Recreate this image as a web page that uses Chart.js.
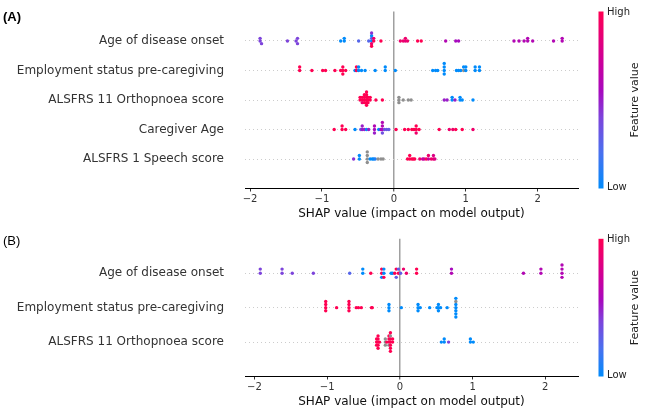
<!DOCTYPE html>
<html>
<head>
<meta charset="utf-8">
<script src="https://cdn.jsdelivr.net/npm/chart.js@4.4.1/dist/chart.umd.min.js"></script>
<style>
  body { margin: 0; background: #fff; }
  #wrap { position: relative; width: 649px; height: 410px; }
  canvas { position: absolute; left: 0; }
  #chartA { top: 0; }
  #chartB { top: 222px; }
</style>
</head>
<body>
<div id="wrap">
  <canvas id="chartA" width="649" height="222"></canvas>
  <canvas id="chartB" width="649" height="188"></canvas>
</div>
<script>
// feature names, most important first (top row)
const featuresA = ['Age of disease onset', 'Employment status pre-caregiving', 'ALSFRS 11 Orthopnoea score', 'Caregiver Age', 'ALSFRS 1 Speech score']
const featuresB = ['Age of disease onset', 'Employment status pre-caregiving', 'ALSFRS 11 Orthopnoea score']
const xTicks = [-2, -1, 0, 1, 2]

// each point: [shap value, feature value 0..1]  (null = missing, drawn grey)
const onsetA = [
  [-1.86, 0.4], [-1.86, 0.4], [-1.84, 0.4],
  [-1.48, 0.4],
  [-1.36, 0.4], [-1.34, 0.4], [-1.34, 0.4],
  [-0.74, 0], [-0.69, 0], [-0.69, 0],
  [-0.49, 0.25],
  [-0.35, 0.25], [-0.31, 0], [-0.31, 0.3], [-0.31, 0.9], [-0.31, 0], [-0.31, 1], [-0.31, 0.45], [-0.28, 1], [-0.28, 0.9],
  [-0.18, 1],
  [0.09, 0.9], [0.13, 0.9], [0.16, 0.85], [0.16, 0.9], [0.19, 0.9],
  [0.33, 1], [0.38, 1],
  [0.72, 0.6], [0.86, 0.55], [0.9, 0.55],
  [1.67, 0.6], [1.74, 0.6], [1.81, 0.6], [1.86, 0.6], [1.86, 0.6], [1.93, 0.6],
  [2.22, 0.6], [2.34, 0.6], [2.34, 0.6]
]
const employA = [
  [-1.31, 1], [-1.31, 1],
  [-1.14, 1],
  [-0.99, 1], [-0.95, 1],
  [-0.82, 1],
  [-0.74, 1], [-0.71, 1], [-0.71, 1], [-0.71, 1], [-0.67, 1],
  [-0.54, 0], [-0.52, 1], [-0.52, 1], [-0.49, 0], [-0.49, 0], [-0.45, 0], [-0.4, 0],
  [-0.26, 0],
  [-0.12, 0], [-0.12, 0],
  [0.02, 0],
  [0.54, 0], [0.58, 0], [0.61, 0],
  [0.7, 0], [0.7, 0], [0.7, 0], [0.7, 0],
  [0.87, 0], [0.9, 0], [0.93, 0], [0.97, null], [0.97, 0], [1.0, 0], [1.0, 0],
  [1.13, 0], [1.13, 0], [1.19, 0], [1.19, 0]
]
const orthoA = [
  [-0.47, 1], [-0.47, 1],
  [-0.44, 1], [-0.44, 1], [-0.44, 0.9],
  [-0.41, 1], [-0.41, 1], [-0.41, 1], [-0.41, 1],
  [-0.38, 1], [-0.38, 1], [-0.38, 1], [-0.38, 1], [-0.38, 1], [-0.38, 1],
  [-0.36, 1], [-0.36, 1], [-0.36, 1],
  [-0.33, 1], [-0.33, 1],
  [-0.25, 1], [-0.16, 1],
  [0.07, null], [0.07, null], [0.07, null], [0.13, null], [0.2, null], [0.24, null],
  [0.7, 0.5], [0.74, 0.5], [0.81, 0], [0.81, 0], [0.85, 0.5], [0.92, 0], [0.92, 0], [0.95, 0], [1.1, 0]
]
const ageA = [
  [-0.83, 1],
  [-0.72, 1], [-0.72, 1], [-0.67, 1],
  [-0.54, 0],
  [-0.46, 0.3], [-0.44, 0.5], [-0.44, 0.5], [-0.41, 0.5], [-0.38, 0], [-0.35, 0.5],
  [-0.27, 0.55], [-0.27, 0.6], [-0.27, 0.5],
  [-0.21, 0], [-0.18, 0.55], [-0.16, 0.6], [-0.16, 0.6], [-0.16, 0.35], [-0.16, 0.6], [-0.13, 0.35], [-0.1, 0.3], [-0.07, 0.3],
  [0.03, 1],
  [0.15, 1], [0.2, 1], [0.25, 1], [0.28, 1], [0.31, 1], [0.31, 1], [0.31, 0.9], [0.35, 1],
  [0.63, 1], [0.77, 0.9], [0.82, 0.9], [0.86, 1], [0.95, 1], [1.1, 0.9]
]
const speechA = [
  [-0.56, 0.45],
  [-0.48, 0], [-0.48, 0],
  [-0.37, null], [-0.37, null], [-0.37, null], [-0.37, null],
  [-0.33, 0], [-0.3, 0], [-0.28, 0], [-0.26, 0.1],
  [-0.22, null], [-0.18, null], [-0.15, null],
  [0.19, 1], [0.22, 1], [0.22, 1], [0.25, 1], [0.27, 1], [0.29, 1],
  [0.36, 0.9], [0.4, 0.7], [0.42, 0.7], [0.45, 1], [0.48, 0.7], [0.48, 0.9], [0.52, 0.9], [0.55, 0.9], [0.55, 0.8], [0.57, 0.8]
]

const onsetB = [
  [-1.92, 0.4], [-1.92, 0.4],
  [-1.62, 0.4], [-1.62, 0.4],
  [-1.48, 0.4],
  [-1.19, 0.4],
  [-0.69, 0.25],
  [-0.51, 0], [-0.51, 0],
  [-0.4, 1],
  [-0.25, 1], [-0.25, 1], [-0.25, 0], [-0.22, 0], [-0.22, 0], [-0.22, 1],
  [-0.12, 0], [-0.1, 0],
  [-0.07, 1], [-0.05, 1], [-0.05, 0.3], [-0.02, 1], [-0.02, 0.3], [0.01, 0.3], [0.05, 0.9],
  [0.09, 0.9],
  [0.23, 1], [0.23, 1],
  [0.71, 0.6], [0.71, 0.55],
  [1.7, 0.6],
  [1.94, 0.6], [1.94, 0.6],
  [2.23, 0.6], [2.23, 0.6], [2.23, 0.6], [2.23, 0.6]
]
const employB = [
  [-1.02, 1], [-1.02, 1], [-1.02, 1], [-1.02, 1],
  [-0.87, 1],
  [-0.7, 1], [-0.7, 1], [-0.7, 1], [-0.7, 1],
  [-0.6, 1], [-0.57, 1], [-0.53, 1],
  [-0.39, 1], [-0.38, 1],
  [-0.15, 0], [-0.15, 0], [-0.15, 0],
  [0.02, 0],
  [0.25, 0], [0.25, 0], [0.25, 0], [0.28, 0],
  [0.41, 0],
  [0.51, 0], [0.53, 0], [0.53, 0], [0.53, 0], [0.56, 0],
  [0.65, 0],
  [0.77, 0], [0.77, 0], [0.77, 0], [0.77, null], [0.77, 0], [0.77, 0], [0.77, 0]
]
const orthoB = [
  [-0.32, 1], [-0.32, 1], [-0.32, 1],
  [-0.3, 1], [-0.3, 1], [-0.3, 1], [-0.3, 1], [-0.3, 1], [-0.28, 1],
  [-0.2, null], [-0.2, null], [-0.2, null], [-0.18, 1],
  [-0.15, 1], [-0.15, 1], [-0.15, null], [-0.15, 1],
  [-0.13, 1], [-0.13, 1], [-0.13, 1], [-0.13, null], [-0.13, 1], [-0.13, 1], [-0.13, 1],
  [-0.1, 1], [-0.1, 1],
  [0.57, 0], [0.61, 0], [0.61, 0], [0.67, 0.4],
  [0.97, 0], [0.97, 0], [1.01, 0]
]

// shap red_blue colour map
const cmapStops = [
  [0.0, [0, 139, 251]],
  [0.2, [73, 113, 239]],
  [0.4, [125, 68, 219]],
  [0.55, [167, 10, 190]],
  [0.7, [200, 0, 158]],
  [0.85, [229, 0, 120]],
  [1.0, [255, 0, 82]]
]
const missingColor = '#8f8f8f'
const font = 'DejaVu Sans'

function rgb(c) {
  return 'rgb(' + c.map(Math.round).join(',') + ')'
}

function colorFor(v) {
  if (v === null) return missingColor
  for (let i = 1; i < cmapStops.length; i++) {
    const a = cmapStops[i - 1], b = cmapStops[i]
    if (v <= b[0]) {
      const t = (v - a[0]) / (b[0] - a[0])
      return rgb(a[1].map((c, k) => c + (b[1][k] - c) * t))
    }
  }
  return rgb(cmapStops[cmapStops.length - 1][1])
}

// same beeswarm layout shap uses: bin the values, stack points in a bin
function swarm(points, rowPos) {
  const shaps = points.map(p => p[0])
  const lo = Math.min(...shaps), hi = Math.max(...shaps)
  const quant = shaps.map(v => Math.round(100 * (v - lo) / (hi - lo + 1e-8)))
  const order = shaps.map((v, i) => i).sort((a, b) => quant[a] - quant[b] || a - b)
  const ys = new Array(points.length).fill(0)
  let layer = 0
  let lastBin = -1
  order.forEach(i => {
    if (quant[i] !== lastBin) layer = 0
    ys[i] = Math.ceil(layer / 2) * ((layer % 2) * 2 - 1)
    layer++
    lastBin = quant[i]
  })
  const scale = 0.9 * (0.4 / Math.max(...ys.map(y => y + 1)))
  return points.map((p, i) => ({ x: p[0], y: rowPos + ys[i] * scale, v: p[1] }))
}

function fmtTick(v) {
  return v < 0 ? '\u2212' + Math.abs(v) : String(v)
}

function noPad(s) {
  s.paddingTop = 0
  s.paddingBottom = 0
  s.paddingLeft = 0
  s.paddingRight = 0
}

const colorBar = {
  id: 'colorBar',
  afterDraw(chart, args, opts) {
    const ctx = chart.ctx
    const area = chart.chartArea
    const x = 598.5
    const grad = ctx.createLinearGradient(0, area.bottom, 0, area.top)
    cmapStops.forEach(s => grad.addColorStop(s[0], rgb(s[1])))
    ctx.save()
    ctx.fillStyle = grad
    ctx.fillRect(x, area.top, 5, area.bottom - area.top)
    ctx.fillStyle = '#222'
    ctx.font = '10px "' + font + '"'
    ctx.textBaseline = 'middle'
    ctx.fillText('High', x + 8.5, area.top + 1)
    ctx.fillText('Low', x + 8.5, area.bottom - 1)
    // panel tag
    ctx.font = (opts.bold ? 'bold ' : '') + '13px "Liberation Sans"'
    ctx.fillStyle = '#000'
    ctx.fillText(opts.tag, 3, opts.tagY)
    ctx.font = '11px "' + font + '"'
    ctx.fillStyle = '#222'
    ctx.translate(x + 37, (area.top + area.bottom) / 2)
    ctx.rotate(-Math.PI / 2)
    ctx.textAlign = 'center'
    ctx.fillText('Feature value', 0, 0)
    ctx.restore()
  }
}

function makeChart(canvasId, names, rows, xMin, xMax, topPad, tag, tagY, bold) {
  const n = names.length
  const datasets = rows.map((row, k) => {
    const pts = swarm(row, n - 1 - k)
    return {
      data: pts,
      pointRadius: 1.7,
      pointBorderWidth: 0,
      pointBackgroundColor: pts.map(p => colorFor(p.v))
    }
  })
  return new Chart(document.getElementById(canvasId), {
    type: 'scatter',
    data: { datasets: datasets },
    plugins: [colorBar],
    options: {
      responsive: false,
      animation: false,
      layout: { padding: { left: 0, right: 71, top: topPad, bottom: 0 } },
      plugins: {
        legend: { display: false },
        tooltip: { enabled: false },
        colorBar: { tag: tag, tagY: tagY, bold: bold }
      },
      scales: {
        x: {
          type: 'linear',
          min: xMin,
          max: xMax,
          afterBuildTicks: s => { s.ticks = xTicks.map(v => ({ value: v })) },
          afterFit: s => { s.height = 33.5; noPad(s) },
          grid: {
            color: c => (c.tick && c.tick.value === 0) ? '#a0a0a0' : 'rgba(0,0,0,0)',
            lineWidth: c => (c.tick && c.tick.value === 0) ? 1.5 : 1,
            drawTicks: true,
            tickLength: 3,
            tickColor: '#333',
            tickWidth: 1
          },
          border: { display: true, color: '#000', width: 1 },
          ticks: {
            color: '#333',
            padding: 1.5,
            font: { family: font, size: 10 },
            callback: v => fmtTick(v)
          },
          title: {
            display: true,
            text: 'SHAP value (impact on model output)',
            color: '#111',
            font: { family: font, size: 12 },
            padding: { top: 0, bottom: 1 }
          }
        },
        y: {
          type: 'linear',
          min: -1,
          max: n,
          afterBuildTicks: s => { s.ticks = names.map((_, i) => ({ value: i })) },
          afterFit: s => { s.width = 245; noPad(s) },
          grid: { color: '#cccccc', lineWidth: 1, drawTicks: false },
          border: { display: false, dash: [1, 3] },
          ticks: {
            color: '#333',
            padding: 21,
            font: { family: font, size: 12 },
            callback: v => names[n - 1 - v]
          }
        }
      }
    }
  })
}

makeChart('chartA', featuresA, [onsetA, employA, orthoA, ageA, speechA], -2.07, 2.56, 11.5, '(A)', 17, true)
makeChart('chartB', featuresB, [onsetB, employB, orthoB], -2.13, 2.45, 16.8, '(B)', 19, false)
</script>
</body>
</html>
